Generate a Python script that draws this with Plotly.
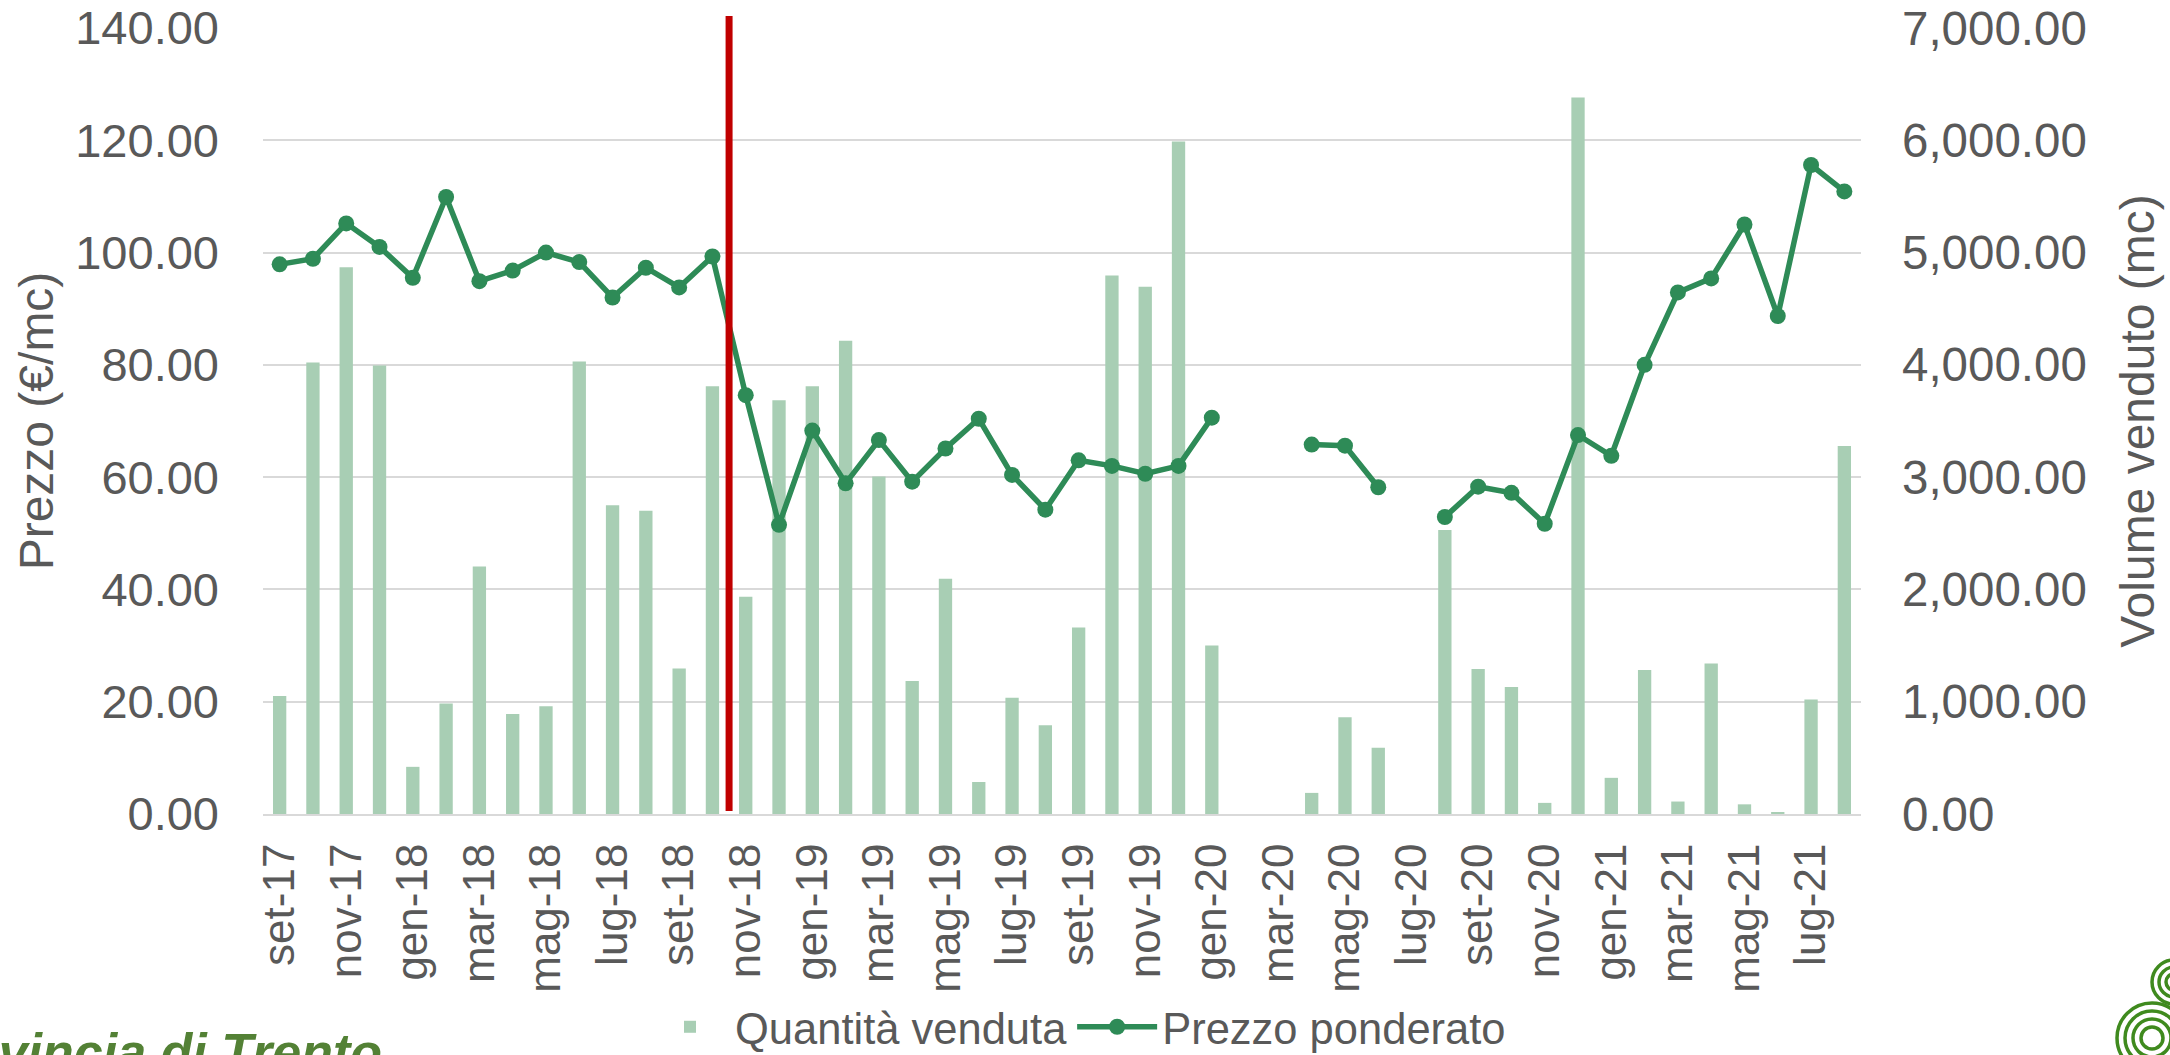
import plotly.graph_objects as go

# ---------------- data ----------------
categories = ["set-17", "ott-17", "nov-17", "dic-17", "gen-18", "feb-18", "mar-18", "apr-18",
              "mag-18", "giu-18", "lug-18", "ago-18", "set-18", "ott-18", "nov-18", "dic-18",
              "gen-19", "feb-19", "mar-19", "apr-19", "mag-19", "giu-19", "lug-19", "ago-19",
              "set-19", "ott-19", "nov-19", "dic-19", "gen-20", "feb-20", "mar-20", "apr-20",
              "mag-20", "giu-20", "lug-20", "ago-20", "set-20", "ott-20", "nov-20", "dic-20",
              "gen-21", "feb-21", "mar-21", "apr-21", "mag-21", "giu-21", "lug-21", "ago-21"]

quantita_venduta = [1050, 4020, 4870, 3995, 420, 985, 2205, 890,
                    960, 4030, 2750, 2700, 1295, 3810, 1935, 3685,
                    3810, 4215, 3005, 1185, 2095, 285, 1035, 790,
                    1660, 4795, 4695, 5990, 1500, 0, 0, 188,
                    862, 590, 0, 2530, 1292, 1132, 99, 6380,
                    322, 1282, 111, 1340, 86, 15, 1020, 3278]

prezzo_ponderato = [97.9, 98.9, 105.2, 101.0, 95.5, 109.9, 94.9, 96.8,
                    100.0, 98.3, 92.0, 97.3, 93.8, 99.3, 74.6, 51.5,
                    68.3, 58.9, 66.6, 59.2, 65.1, 70.4, 60.4, 54.2,
                    63.0, 62.0, 60.6, 62.0, 70.6, None, None, 65.8,
                    65.6, 58.2, None, 52.9, 58.3, 57.2, 51.7, 67.5,
                    63.8, 80.0, 92.9, 95.4, 105.0, 88.7, 115.6, 110.9]

tick_labels = categories[::2]
marker_between = ("ott-18", "nov-18")

# ---------------- styling ----------------
FONT = "Arial, 'Liberation Sans', sans-serif"
GREY = "#595959"
W, H = 2170, 1055
ML, MR, MT, MB = 263, 309, 28, 241
PW, PH = W - ML - MR, H - MT - MB


def px_x(x):
    return (x - ML) / PW


def px_y(y):
    return (H - MB - y) / PH


fig = go.Figure()
fig.add_trace(go.Bar(
    x=categories, y=quantita_venduta, name="Quantità venduta",
    marker=dict(color="#a8ceb4", line=dict(width=0)), yaxis="y"))
fig.add_trace(go.Scatter(
    x=categories, y=prezzo_ponderato, name="Prezzo ponderato",
    mode="lines+markers", connectgaps=False,
    line=dict(color="#2e8b57", width=5.5),
    marker=dict(size=16, color="#2e8b57"), yaxis="y2"))

split_x = (categories.index(marker_between[0]) + categories.index(marker_between[1])) / 2

shapes = [dict(type="line", xref="x", yref="paper", x0=split_x, x1=split_x,
               y0=px_y(811), y1=px_y(16), line=dict(color="#c00000", width=7), layer="above")]

# decorative logo (bottom-right corner)
for cx, cy, radii in [(2152, 1038, [35, 27, 19, 11]), (2174, 982, [22, 15, 8])]:
    for r in radii:
        shapes.append(dict(type="circle", xref="paper", yref="paper",
                           x0=px_x(cx - r), x1=px_x(cx + r), y0=px_y(cy + r), y1=px_y(cy - r),
                           line=dict(color="#3f8a1e", width=3.5), fillcolor="rgba(0,0,0,0)"))

fig.update_layout(
    width=W, height=H,
    margin=dict(l=ML, r=MR, t=MT, b=MB, autoexpand=False),
    paper_bgcolor="white", plot_bgcolor="white",
    font=dict(family=FONT, color=GREY),
    bargap=0.6,
    showlegend=True,
    legend=dict(orientation="h", x=px_x(1078), xanchor="center", y=px_y(1027), yanchor="middle",
                font=dict(size=43.5, color=GREY, family=FONT), itemwidth=80,
                bgcolor="rgba(0,0,0,0)", traceorder="normal"),
    xaxis=dict(type="category", categoryorder="array", categoryarray=categories,
               range=[-0.5, len(categories) - 0.5],
               tickmode="array", tickvals=tick_labels, ticktext=tick_labels,
               tickangle=-90, tickfont=dict(size=44, color=GREY, family=FONT),
               showgrid=False, showline=True, linecolor="#d9d9d9", linewidth=2,
               ticks="", ticklabelstandoff=10, zeroline=False),
    yaxis=dict(side="right", range=[0, 7000], dtick=1000, tickformat=",.2f",
               tickfont=dict(size=47.5, color=GREY, family=FONT),
               showgrid=True, gridcolor="#d9d9d9", gridwidth=2, zeroline=False,
               ticks="", ticklabelstandoff=40,
               title=dict(text="Volume venduto (mc)", font=dict(size=48, color=GREY, family=FONT),
                          standoff=34)),
    yaxis2=dict(side="left", overlaying="y", range=[0, 140], dtick=20, tickformat=".2f",
                tickfont=dict(size=47, color=GREY, family=FONT),
                showgrid=False, zeroline=False, ticks="", ticklabelstandoff=43,
                title=dict(text="Prezzo (€/mc)", font=dict(size=48, color=GREY, family=FONT),
                           standoff=6)),
    shapes=shapes,
    annotations=[dict(text="<b><i>Provincia di Trento</i></b>", xref="paper", yref="paper",
                      x=px_x(384), xanchor="right", y=px_y(1021), yanchor="top",
                      showarrow=False, font=dict(size=52, color="#538135", family=FONT))],
)

fig.write_html("out.html", config={"displayModeBar": False},
               post_script="document.body.style.margin='0';document.body.style.overflow='hidden';")
